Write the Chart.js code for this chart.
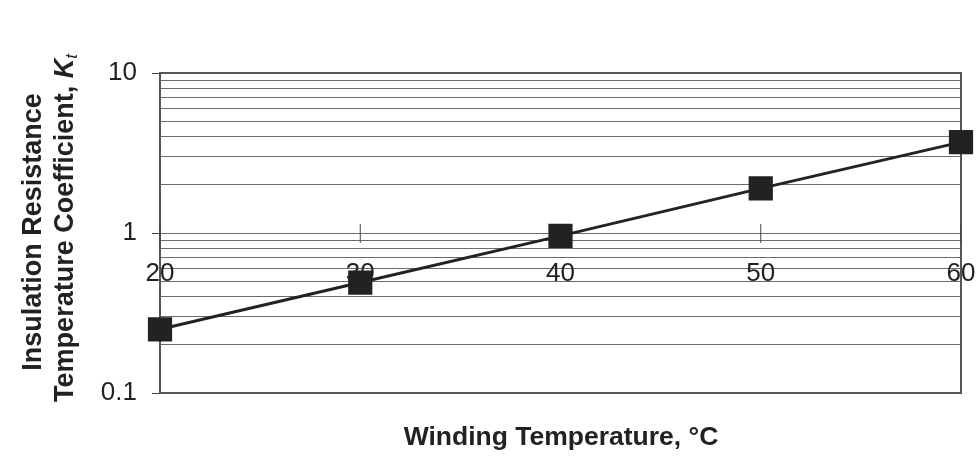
<!DOCTYPE html>
<html>
<head>
<meta charset="utf-8">
<script src="https://cdn.jsdelivr.net/npm/chart.js@4/dist/chart.umd.min.js"></script>
<style>
  html, body { margin: 0; padding: 0; background: #fff; }
  #wrap { width: 979px; height: 461px; }
</style>
</head>
<body>
<div id="wrap"><canvas id="kt-chart"></canvas></div>
<script>
// data
const temps = [20, 30, 40, 50, 60];
const coeffs = [0.25, 0.49, 0.96, 1.9, 3.7];
const yTicks = [0.1, 0.2, 0.3, 0.4, 0.5, 0.6, 0.7, 0.8, 0.9, 1, 2, 3, 4, 5, 6, 7, 8, 9, 10];
const yLabels = { 0.1: '0.1', 1: '1', 10: '10' };
const xTicks = [20, 30, 40, 50, 60];

const ink = '#222';
const gridGray = '#6b6b6b';
const fam = '"Liberation Sans", Arial, sans-serif';

// titles + frame + cross ticks on the x axis
const extras = {
    id: 'extras',
    beforeDatasetsDraw(chart) {
        const ctx = chart.ctx;
        const a = chart.chartArea;
        const xs = chart.scales.x;
        const ys = chart.scales.y;
        ctx.save();
        // frame
        ctx.strokeStyle = '#555';
        ctx.lineWidth = 2;
        ctx.strokeRect(a.left, a.top, a.right - a.left, a.bottom - a.top);
        // small crossing ticks where the x axis sits (y = 1)
        const y1 = ys.getPixelForValue(1);
        ctx.strokeStyle = '#444';
        ctx.lineWidth = 1;
        xTicks.forEach(t => {
            const px = xs.getPixelForValue(t);
            ctx.beginPath();
            ctx.moveTo(px, y1 - 9);
            ctx.lineTo(px, y1 + 10);
            ctx.stroke();
        });
        ctx.restore();
    },
    afterDraw(chart) {
        const ctx = chart.ctx;
        ctx.save();
        ctx.fillStyle = ink;
        // x title
        ctx.font = 'bold 26.5px ' + fam;
        ctx.textAlign = 'center';
        ctx.textBaseline = 'middle';
        ctx.fillText('Winding Temperature, °C', 561, 438);

        // y title, two rotated lines
        ctx.save();
        ctx.translate(34, 232);
        ctx.rotate(-Math.PI / 2);
        ctx.font = 'bold 27px ' + fam;
        ctx.fillText('Insulation Resistance', 0, 0);
        ctx.restore();

        ctx.save();
        ctx.translate(66, 228);
        ctx.rotate(-Math.PI / 2);
        const main = 'Temperature Coefficient, ';
        ctx.font = 'bold 27px ' + fam;
        const wMain = ctx.measureText(main).width;
        ctx.font = 'bold italic 27px ' + fam;
        const wK = ctx.measureText('K').width;
        ctx.font = 'italic 17px ' + fam;
        const wt = ctx.measureText('t').width;
        let x0 = -(wMain + wK + wt) / 2;
        ctx.textAlign = 'left';
        ctx.font = 'bold 27px ' + fam;
        ctx.fillText(main, x0, 0);
        x0 += wMain;
        ctx.font = 'bold italic 27px ' + fam;
        ctx.fillText('K', x0, 0);
        x0 += wK;
        ctx.font = 'italic 17px ' + fam;
        ctx.fillText('t', x0, 6);
        ctx.restore();
        ctx.restore();
    }
};

const ctx = document.getElementById('kt-chart').getContext('2d');
new Chart(ctx, {
    type: 'line',
    data: {
        datasets: [{
            data: temps.map((t, i) => ({ x: t, y: coeffs[i] })),
            borderColor: ink,
            borderWidth: 3,
            backgroundColor: ink,
            pointStyle: 'rect',
            pointRadius: 15,
            pointHoverRadius: 15,
            pointBorderColor: ink,
            pointBackgroundColor: ink,
            clip: false,
            tension: 0
        }]
    },
    options: {
        responsive: true,
        maintainAspectRatio: false,
        animation: false,
        events: [],
        layout: { padding: { top: 73, right: 17, bottom: 68, left: 0 } },
        plugins: { legend: { display: false }, tooltip: { enabled: false } },
        scales: {
            x: {
                type: 'linear',
                position: { y: 1 },
                min: 20,
                max: 60,
                afterBuildTicks: s => { s.ticks = xTicks.map(v => ({ value: v })); },
                afterFit: s => { s.paddingLeft = 0; s.paddingRight = 0; },
                grid: { display: false },
                border: { display: false },
                ticks: {
                    color: ink,
                    font: { family: fam, size: 26 },
                    padding: 17,
                    maxRotation: 0,
                    autoSkip: false
                }
            },
            y: {
                type: 'logarithmic',
                min: 0.1,
                max: 10,
                afterBuildTicks: s => { s.ticks = yTicks.map(v => ({ value: v })); },
                afterFit: s => { s.width = 160; s.paddingTop = 0; s.paddingBottom = 0; },
                border: { display: true, color: '#444', width: 2 },
                grid: {
                    color: gridGray,
                    lineWidth: 1,
                    tickLength: 8,
                    tickColor: c => (yLabels[c.tick && c.tick.value] ? '#444' : 'rgba(0,0,0,0)')
                },
                ticks: {
                    color: ink,
                    font: { family: fam, size: 26 },
                    padding: 15,
                    autoSkip: false,
                    callback: v => yLabels[v] || ''
                }
            }
        }
    },
    plugins: [extras]
});
</script>
</body>
</html>
